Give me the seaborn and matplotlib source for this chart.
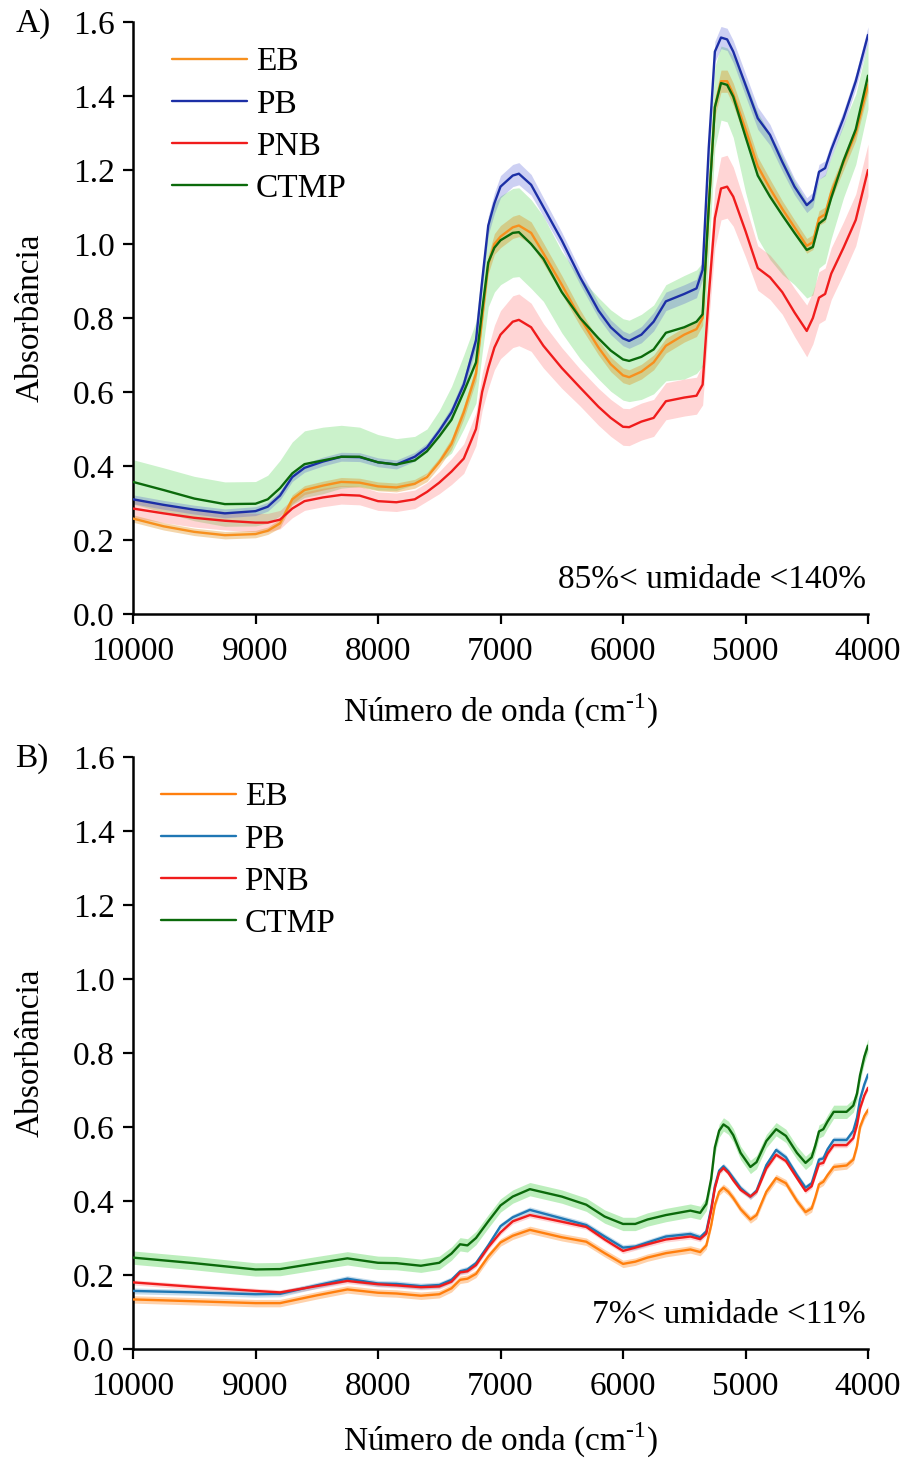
import numpy as np
import pandas as pd
import matplotlib
matplotlib.use("Agg")
import matplotlib.pyplot as plt
import seaborn as sns

# ---------------- data ----------------
series_names = ["EB", "PB", "PNB", "CTMP"]

wn_A = [10000, 9750, 9500, 9250, 9000, 8900, 8800, 8700, 8600, 8450,
        8300, 8150, 8000, 7850, 7700, 7600, 7500, 7400, 7300, 7200,
        7150, 7100, 7050, 7000, 6900, 6850, 6750, 6650, 6500, 6350,
        6200, 6100, 6000, 5950, 5850, 5750, 5650, 5500, 5400, 5350,
        5300, 5250, 5200, 5150, 5100, 5000, 4900, 4800, 4700, 4600,
        4500, 4450, 4400, 4350, 4300, 4200, 4100, 4000]

EB_A = [0.258, 0.237, 0.222, 0.213, 0.216, 0.225, 0.245, 0.310, 0.335, 0.347,
        0.357, 0.355, 0.345, 0.342, 0.352, 0.370, 0.410, 0.460, 0.545, 0.650,
        0.800, 0.945, 1.000, 1.020, 1.045, 1.050, 1.030, 0.975, 0.890, 0.800,
        0.720, 0.675, 0.645, 0.640, 0.655, 0.680, 0.725, 0.755, 0.770, 0.800,
        1.100, 1.370, 1.440, 1.440, 1.405, 1.310, 1.210, 1.150, 1.095, 1.045,
        0.995, 1.005, 1.070, 1.080, 1.140, 1.220, 1.300, 1.430]
PB_A = [0.310, 0.295, 0.282, 0.272, 0.278, 0.290, 0.320, 0.370, 0.395, 0.412,
        0.425, 0.424, 0.410, 0.404, 0.425, 0.450, 0.495, 0.545, 0.620, 0.740,
        0.900, 1.050, 1.110, 1.155, 1.185, 1.190, 1.160, 1.100, 1.010, 0.910,
        0.820, 0.775, 0.745, 0.738, 0.755, 0.790, 0.845, 0.865, 0.880, 0.930,
        1.260, 1.520, 1.558, 1.553, 1.520, 1.430, 1.340, 1.295, 1.222, 1.155,
        1.105, 1.120, 1.195, 1.205, 1.255, 1.340, 1.440, 1.565]
PNB_A = [0.285, 0.272, 0.260, 0.252, 0.247, 0.247, 0.255, 0.285, 0.305, 0.315,
         0.322, 0.320, 0.305, 0.302, 0.310, 0.330, 0.355, 0.385, 0.420, 0.500,
         0.600, 0.665, 0.720, 0.755, 0.790, 0.795, 0.775, 0.725, 0.665, 0.612,
         0.560, 0.530, 0.506, 0.505, 0.520, 0.530, 0.575, 0.585, 0.590, 0.620,
         0.860, 1.070, 1.150, 1.155, 1.128, 1.035, 0.935, 0.910, 0.870, 0.815,
         0.765, 0.800, 0.855, 0.865, 0.920, 0.990, 1.065, 1.200]
CTMP_A = [0.357, 0.335, 0.312, 0.297, 0.298, 0.310, 0.340, 0.380, 0.405, 0.415,
          0.425, 0.425, 0.410, 0.404, 0.415, 0.440, 0.480, 0.525, 0.600, 0.680,
          0.820, 0.950, 0.990, 1.010, 1.030, 1.032, 1.000, 0.960, 0.870, 0.800,
          0.745, 0.712, 0.688, 0.684, 0.695, 0.715, 0.760, 0.775, 0.790, 0.810,
          1.100, 1.370, 1.435, 1.430, 1.398, 1.290, 1.185, 1.128, 1.078, 1.030,
          0.984, 0.992, 1.055, 1.068, 1.125, 1.225, 1.310, 1.455]

EB_A_sd = [0.010, 0.010, 0.010, 0.010, 0.010, 0.010, 0.012, 0.012, 0.012, 0.012,
           0.012, 0.012, 0.012, 0.012, 0.012, 0.012, 0.012, 0.015, 0.018, 0.020,
           0.022, 0.025, 0.028, 0.030, 0.030, 0.030, 0.030, 0.028, 0.025, 0.022,
           0.020, 0.020, 0.020, 0.020, 0.020, 0.020, 0.020, 0.020, 0.020, 0.020,
           0.020, 0.025, 0.030, 0.030, 0.030, 0.028, 0.025, 0.025, 0.022, 0.020,
           0.020, 0.020, 0.020, 0.020, 0.020, 0.020, 0.020, 0.020]
PB_A_sd = [0.012, 0.012, 0.012, 0.012, 0.012, 0.012, 0.012, 0.012, 0.012, 0.012,
           0.012, 0.012, 0.012, 0.012, 0.012, 0.012, 0.012, 0.015, 0.018, 0.020,
           0.022, 0.025, 0.028, 0.030, 0.030, 0.030, 0.028, 0.025, 0.022, 0.020,
           0.020, 0.020, 0.020, 0.020, 0.022, 0.025, 0.025, 0.025, 0.025, 0.025,
           0.025, 0.028, 0.030, 0.030, 0.030, 0.030, 0.030, 0.028, 0.025, 0.022,
           0.020, 0.020, 0.020, 0.020, 0.020, 0.020, 0.020, 0.022]
PNB_A_sd = [0.025, 0.025, 0.025, 0.025, 0.025, 0.025, 0.025, 0.025, 0.025, 0.025,
            0.025, 0.025, 0.025, 0.025, 0.025, 0.025, 0.030, 0.035, 0.040, 0.045,
            0.050, 0.055, 0.060, 0.065, 0.070, 0.070, 0.065, 0.060, 0.055, 0.050,
            0.050, 0.050, 0.050, 0.050, 0.050, 0.050, 0.050, 0.050, 0.050, 0.055,
            0.070, 0.080, 0.085, 0.085, 0.080, 0.070, 0.060, 0.060, 0.060, 0.065,
            0.070, 0.070, 0.070, 0.070, 0.070, 0.070, 0.070, 0.070]
CTMP_A_sd = [0.060, 0.060, 0.060, 0.060, 0.060, 0.065, 0.075, 0.085, 0.090, 0.090,
             0.085, 0.080, 0.075, 0.070, 0.065, 0.060, 0.070, 0.090, 0.100, 0.110,
             0.115, 0.120, 0.120, 0.120, 0.120, 0.120, 0.120, 0.115, 0.110, 0.110,
             0.110, 0.110, 0.110, 0.110, 0.115, 0.120, 0.130, 0.140, 0.140, 0.140,
             0.130, 0.110, 0.100, 0.100, 0.110, 0.150, 0.170, 0.170, 0.160, 0.140,
             0.130, 0.130, 0.120, 0.120, 0.110, 0.100, 0.095, 0.090]

wn_B = [10000, 9500, 9000, 8800, 8500, 8250, 8000, 7850, 7650, 7500,
        7400, 7330, 7270, 7200, 7100, 7000, 6900, 6760, 6500, 6300,
        6150, 6000, 5900, 5800, 5650, 5450, 5370, 5320, 5280, 5250,
        5215, 5180, 5140, 5100, 5040, 4960, 4910, 4830, 4750, 4670,
        4580, 4510, 4460, 4430, 4400, 4365, 4330, 4280, 4175, 4120,
        4090, 4065, 4030, 4000]

EB_B = [0.134, 0.129, 0.124, 0.124, 0.145, 0.161, 0.152, 0.150, 0.144, 0.148,
        0.164, 0.187, 0.190, 0.203, 0.250, 0.288, 0.306, 0.322, 0.302, 0.290,
        0.259, 0.230, 0.236, 0.247, 0.259, 0.269, 0.262, 0.280, 0.335, 0.390,
        0.425, 0.436, 0.425, 0.408, 0.378, 0.350, 0.362, 0.425, 0.462, 0.448,
        0.400, 0.370, 0.380, 0.410, 0.445, 0.452, 0.470, 0.492, 0.496, 0.512,
        0.548, 0.600, 0.630, 0.646]
PB_B = [0.157, 0.153, 0.148, 0.149, 0.172, 0.190, 0.177, 0.176, 0.170, 0.173,
        0.187, 0.210, 0.215, 0.232, 0.280, 0.332, 0.356, 0.376, 0.353, 0.335,
        0.304, 0.274, 0.277, 0.288, 0.304, 0.311, 0.302, 0.318, 0.380, 0.440,
        0.482, 0.494, 0.480, 0.462, 0.435, 0.412, 0.428, 0.497, 0.538, 0.518,
        0.470, 0.436, 0.448, 0.480, 0.512, 0.515, 0.540, 0.565, 0.565, 0.590,
        0.625, 0.675, 0.715, 0.742]
PNB_B = [0.180, 0.168, 0.157, 0.153, 0.170, 0.184, 0.175, 0.172, 0.167, 0.169,
         0.182, 0.207, 0.210, 0.227, 0.275, 0.315, 0.345, 0.362, 0.344, 0.330,
         0.296, 0.265, 0.274, 0.283, 0.296, 0.304, 0.297, 0.312, 0.375, 0.435,
         0.477, 0.489, 0.476, 0.456, 0.430, 0.412, 0.425, 0.488, 0.525, 0.508,
         0.462, 0.427, 0.440, 0.470, 0.500, 0.503, 0.528, 0.551, 0.551, 0.570,
         0.605, 0.650, 0.685, 0.706]
CTMP_B = [0.247, 0.232, 0.215, 0.216, 0.232, 0.245, 0.233, 0.232, 0.225, 0.233,
          0.258, 0.283, 0.280, 0.300, 0.345, 0.388, 0.412, 0.432, 0.412, 0.390,
          0.358, 0.338, 0.338, 0.350, 0.362, 0.374, 0.368, 0.392, 0.460, 0.545,
          0.590, 0.607, 0.598, 0.578, 0.530, 0.492, 0.505, 0.562, 0.594, 0.576,
          0.530, 0.503, 0.518, 0.550, 0.588, 0.594, 0.615, 0.641, 0.641, 0.658,
          0.690, 0.740, 0.790, 0.820]
sd_B = {"EB": 0.010, "PB": 0.008, "PNB": 0.007, "CTMP": 0.018}

palette_A = {"EB": "#f7901e", "PB": "#1c2fa6", "PNB": "#f01c1c", "CTMP": "#0b6a0b"}
palette_B = {"EB": "#ff7f0e", "PB": "#1f77b4", "PNB": "#f01c1c", "CTMP": "#0b6a0b"}
band_A = {"EB": ("#e08a10", 0.35), "PB": ("#3a46d0", 0.25),
          "PNB": ("#ff4040", 0.22), "CTMP": ("#40d040", 0.27)}
band_B = {"EB": ("#ff7f0e", 0.35), "PB": ("#1f77b4", 0.25),
          "PNB": ("#ff4040", 0.22), "CTMP": ("#40d040", 0.35)}

means_A = {"EB": EB_A, "PB": PB_A, "PNB": PNB_A, "CTMP": CTMP_A}
sds_A = {"EB": EB_A_sd, "PB": PB_A_sd, "PNB": PNB_A_sd, "CTMP": CTMP_A_sd}
means_B = {"EB": EB_B, "PB": PB_B, "PNB": PNB_B, "CTMP": CTMP_B}

# ---------------- style ----------------
sns.set_theme(style="ticks")
plt.rcParams["font.family"] = ["Liberation Serif", "DejaVu Serif"]
plt.rcParams["mathtext.fontset"] = "custom"
plt.rcParams["mathtext.rm"] = "Liberation Serif"
plt.rcParams["text.color"] = "black"
plt.rcParams["axes.labelcolor"] = "black"
FS = 24

fig = plt.figure(figsize=(9.06, 14.61), dpi=100)
axA = fig.add_axes([133 / 906, 1 - 614 / 1461, 735 / 906, 592 / 1461])
axB = fig.add_axes([133 / 906, 1 - 1349 / 1461, 735 / 906, 592 / 1461])


def draw(ax, wn, means, sds, palette, bands, leg_xy, note, letter, xpad):
    rows = []
    for s in series_names:
        for w, v in zip(wn, means[s]):
            rows.append({"wn": w, "abs": v, "amostra": s})
    df = pd.DataFrame(rows)
    for s in ["CTMP", "PNB", "PB", "EB"]:
        m = np.asarray(means[s])
        sd = sds[s] if np.ndim(sds[s]) else np.full(len(wn), sds[s])
        sd = np.asarray(sd)
        c, a = bands[s]
        ax.fill_between(wn, m - sd, m + sd, color=c, alpha=a, lw=0, zorder=1)
    sns.lineplot(data=df, x="wn", y="abs", hue="amostra", hue_order=series_names,
                 palette=palette, errorbar=None, lw=1.7, ax=ax, zorder=3)
    ax.set_xlim(10000, 4000)
    ax.set_ylim(0, 1.6)
    ax.set_xticks([10000, 9000, 8000, 7000, 6000, 5000, 4000])
    yt = np.arange(0, 1.61, 0.2)
    ax.set_yticks(yt)
    ax.set_yticklabels([f"{v:.1f}" for v in yt])
    ax.tick_params(axis="both", labelsize=FS, length=7, width=1.6, color="black",
                   labelcolor="black", direction="out")
    ax.tick_params(axis="x", pad=9)
    ax.tick_params(axis="y", pad=6)
    for sp in ["top", "right"]:
        ax.spines[sp].set_visible(False)
    for sp in ["left", "bottom"]:
        ax.spines[sp].set_linewidth(1.8)
        ax.spines[sp].set_color("black")
    ax.set_xlabel("Número de onda (cm$^{\u2010\\mathrm{1}}$)", fontsize=FS,
                  labelpad=xpad)
    ax.set_ylabel("Absorbância", fontsize=FS, labelpad=20)
    handles, labels = ax.get_legend_handles_labels()
    ax.legend(handles, labels, loc="upper left", bbox_to_anchor=leg_xy,
              frameon=False, fontsize=FS, handlelength=2.25, handletextpad=0.27,
              labelspacing=0.35, borderpad=0, borderaxespad=0)
    ax.text(0.997, 0.058, note, transform=ax.transAxes, ha="right", va="center",
            fontsize=FS)
    ax.text(-0.16, 0.997, letter, transform=ax.transAxes, ha="left", va="center",
            fontsize=FS)


draw(axA, wn_A, means_A, sds_A, palette_A, band_A, (0.053, 0.958),
     "85%< umidade <140%", "A)", 18)
draw(axB, wn_B, means_B, sd_B, palette_B, band_B, (0.0375, 0.958),
     "7%< umidade <11%", "B)", 14)

fig.savefig("out.png", dpi=100)
